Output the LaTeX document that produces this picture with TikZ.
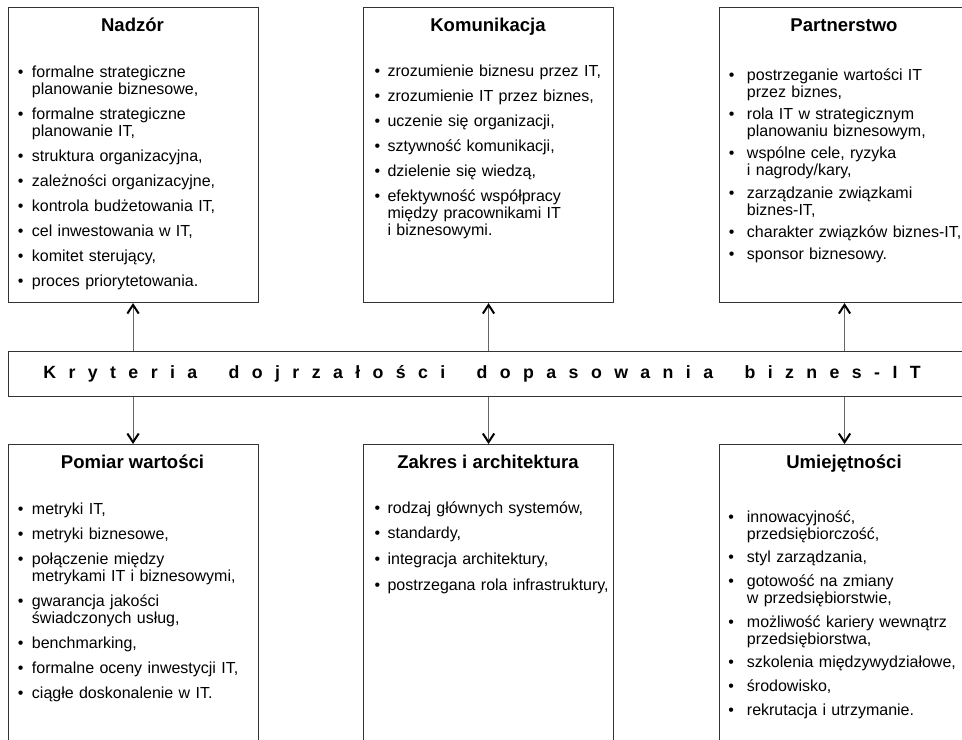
\documentclass[tikz,border=0pt]{standalone}
\usepackage{fontspec}
\setmainfont{Liberation Sans}
\usetikzlibrary{arrows.meta}

% bullet list used inside the category boxes
\newlength\bulw
\newlength\itmsep
\newcommand\itm[1]{\par\noindent\hangindent=\bulw\hangafter=1%
  \makebox[\bulw][l]{\textbullet}#1\par\vspace{\itmsep}}
% wider gap between the words of the letter-spaced heading
\newcommand\wgap{\hspace{10.5pt}}

\tikzset{
  catbox/.style={draw=black!80, line width=0.8pt, inner sep=0pt,
    minimum width=187.5pt, anchor=north west},
  topbox/.style={catbox, minimum height=221.25pt},
  lowbox/.style={catbox, minimum height=240pt},
  cattitle/.style={font=\bfseries\fontsize{13.9}{16}\selectfont,
    anchor=base, inner sep=0pt},
  catlist/.style 2 args={font=\fontsize{12}{12.75}\selectfont,
    anchor=base west, inner sep=0pt, text width=200pt, align=left,
    execute at begin node={\setlength\bulw{#1}\setlength\itmsep{#2}}},
  criteria/.style={draw=black!80, line width=0.8pt, inner sep=0pt,
    minimum width=720.75pt, minimum height=33.75pt, anchor=north west,
    font=\bfseries\fontsize{13.3}{16}\selectfont\addfontfeature{LetterSpace=70}},
  conn/.style={draw=black!60, line width=0.75pt,
    -{Straight Barb[length=6.5pt,width=8.5pt,line width=1.5pt,color=black]}}
}

\begin{document}
\begin{tikzpicture}[x=0.75pt, y=-0.75pt]
\useasboundingbox (0,0) rectangle (962,739);
\clip (0,0) rectangle (962,739);

% central bar
\node[criteria] (bar) at (7.5,351)
  {Kryteria \wgap dojrzałości \wgap dopasowania \wgap biznes-IT\hspace*{9.75pt}};

% upper row
\node[topbox] (nad) at (7.5,7) {};
\node[topbox] (kom) at (363,7) {};
\node[topbox] (par) at (719,7) {};

\node[cattitle] (nadT) at (132.5,31) {Nadzór};
\node[cattitle] (komT) at (488,31) {Komunikacja};
\node[cattitle] (parT) at (844,31) {Partnerstwo};

\node[catlist={10.5pt}{6pt}] (nadL) at (17.7,60) {%
  \itm{formalne strategiczne\newline planowanie biznesowe,}
  \itm{formalne strategiczne\newline planowanie IT,}
  \itm{struktura organizacyjna,}
  \itm{zależności organizacyjne,}
  \itm{kontrola budżetowania IT,}
  \itm{cel inwestowania w IT,}
  \itm{komitet sterujący,}
  \itm{proces priorytetowania.}};

\node[catlist={9.75pt}{6pt}] (komL) at (374.3,59.5) {%
  \itm{zrozumienie biznesu przez IT,}
  \itm{zrozumienie IT przez biznes,}
  \itm{uczenie się organizacji,}
  \itm{sztywność komunikacji,}
  \itm{dzielenie się wiedzą,}
  \itm{efektywność współpracy\newline między pracownikami IT\newline i biznesowymi.}};

\node[catlist={13.5pt}{4pt}] (parL) at (728.7,63) {%
  \itm{postrzeganie wartości IT\newline przez biznes,}
  \itm{rola IT w strategicznym\newline planowaniu biznesowym,}
  \itm{wspólne cele, ryzyka\newline i nagrody/kary,}
  \itm{zarządzanie związkami\newline biznes-IT,}
  \itm{charakter związków biznes-IT,}
  \itm{sponsor biznesowy.}};

% lower row
\node[lowbox] (pom) at (7.5,444) {};
\node[lowbox] (zak) at (363,444) {};
\node[lowbox] (umi) at (719,444) {};

\node[cattitle] (pomT) at (132.5,468) {Pomiar wartości};
\node[cattitle] (zakT) at (488,468) {Zakres i architektura};
\node[cattitle] (umiT) at (844,468) {Umiejętności};

\node[catlist={10.5pt}{6pt}] (pomL) at (17.7,497.5) {%
  \itm{metryki IT,}
  \itm{metryki biznesowe,}
  \itm{połączenie między\newline metrykami IT i biznesowymi,}
  \itm{gwarancja jakości\newline świadczonych usług,}
  \itm{benchmarking,}
  \itm{formalne oceny inwestycji IT,}
  \itm{ciągłe doskonalenie w IT.}};

\node[catlist={9.75pt}{6.5pt}] (zakL) at (374.3,496) {%
  \itm{rodzaj głównych systemów,}
  \itm{standardy,}
  \itm{integracja architektury,}
  \itm{postrzegana rola infrastruktury,}};

\node[catlist={14pt}{5pt}] (umiL) at (728,505) {%
  \itm{innowacyjność,\newline przedsiębiorczość,}
  \itm{styl zarządzania,}
  \itm{gotowość na zmiany\newline w przedsiębiorstwie,}
  \itm{możliwość kariery wewnątrz\newline przedsiębiorstwa,}
  \itm{szkolenia międzywydziałowe,}
  \itm{środowisko,}
  \itm{rekrutacja i utrzymanie.}};

% connectors from the bar to the categories
\draw[conn] (bar.north -| nad.south) -- (nad.south);
\draw[conn] (bar.north -| kom.south) -- (kom.south);
\draw[conn] (bar.north -| par.south) -- (par.south);
\draw[conn] (bar.south -| pom.north) -- (pom.north);
\draw[conn] (bar.south -| zak.north) -- (zak.north);
\draw[conn] (bar.south -| umi.north) -- (umi.north);
\end{tikzpicture}
\end{document}
